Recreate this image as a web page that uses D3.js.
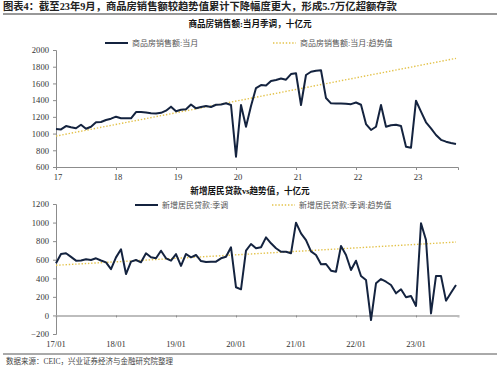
<!DOCTYPE html>
<html>
<head>
<meta charset="utf-8">
<script src="https://cdn.jsdelivr.net/npm/d3@7"></script>
<style>
  html, body { margin: 0; padding: 0; background: #fff; }
  svg text { font-family: "Liberation Serif", "Noto Sans CJK SC", serif; }
</style>
</head>
<body>
<svg id="chart" width="500" height="368"></svg>
<script>
// Monthly data, 2017-01 .. 2023-09 (81 months)
const firstMonth = '2017-01';

// 商品房销售额:当月 (季调, 十亿元)
const salesValues = [
  1055, 1050, 1090, 1075, 1063, 1106, 1058, 1082, 1135, 1138, 1162, 1178,
  1202, 1183, 1182, 1183, 1258, 1258, 1252, 1242, 1240, 1248, 1274, 1322,
  1267, 1285, 1292, 1348, 1302, 1318, 1330, 1318, 1345, 1348, 1362, 1342,
  723, 1342, 1082, 1330, 1545, 1580, 1575, 1630, 1641, 1658, 1645, 1712,
  1722, 1342, 1701, 1740, 1752, 1758, 1425, 1362, 1360, 1360, 1358, 1352,
  1372, 1345, 1114, 1043, 1082, 1342, 1082, 1100, 1105, 1090, 843, 831,
  1393, 1262, 1135, 1063, 983, 925, 903, 888, 875
];
// 趋势值: straight line, read at both ends
const salesTrend = [
  { month: 0, value: 970 },
  { month: 80, value: 1900 }
];

// 新增居民贷款:季调 (十亿元)
const loanValues = [
  561, 662, 669, 630, 590, 592, 605, 597, 615, 592, 572, 498,
  625, 712, 446, 579, 597, 572, 669, 626, 615, 697, 615, 590,
  660, 534, 662, 626, 651, 586, 575, 579, 579, 615, 632, 734,
  303, 281, 697, 769, 723, 734, 841, 777, 723, 686, 686, 669,
  999, 884, 812, 690, 651, 551, 554, 482, 471, 748, 651, 489,
  589, 425, 382, -50, 346, 392, 363, 328, 238, 281, 195, 209,
  102, 992, 812, 22, 425, 425, 159, 245, 328
];
const loanTrend = [
  { month: 0, value: 540 },
  { month: 80, value: 790 }
];

// Axis ticks
const yearTickMonths = [0, 12, 24, 36, 48, 60, 72];
const topXLabels = ['17', '18', '19', '20', '21', '22', '23'];
const bottomXLabels = ['17/01', '18/01', '19/01', '20/01', '21/01', '22/01', '23/01'];
const topYTicks = [600, 800, 1000, 1200, 1400, 1600, 1800, 2000];
const bottomYTicks = [-200, 0, 200, 400, 600, 800, 1000, 1200];

// Texts
const mainTitle = '图表4：截至23年9月，商品房销售额较趋势值累计下降幅度更大，形成5.7万亿超额存款';
const topTitle = '商品房销售额:当月季调，十亿元';
const topLegend = ['商品房销售额:当月', '商品房销售额:当月:趋势值'];
const bottomTitle = '新增居民贷款vs趋势值，十亿元';
const bottomLegend = ['新增居民贷款:季调', '新增居民贷款:季调:趋势值'];
const sourceNote = '数据来源：CEIC，兴业证券经济与金融研究院整理';

const lineColor = '#14233f';
const trendColor = '#e3c24a';
const axisColor = '#8c8c8c';
const labelColor = '#333';

const svg = d3.select('#chart');

// Header
svg.append('text')
  .attr('x', 3).attr('y', 10)
  .style('font-size', '10.3px')
  .style('font-weight', 'bold')
  .style('fill', '#222')
  .text(mainTitle);

svg.append('line')
  .attr('x1', 3).attr('x2', 497)
  .attr('y1', 14).attr('y2', 14)
  .attr('stroke', '#333')
  .attr('stroke-width', 1.2);

// Footer
svg.append('line')
  .attr('x1', 3).attr('x2', 497)
  .attr('y1', 354).attr('y2', 354)
  .attr('stroke', '#555')
  .attr('stroke-width', 1);

svg.append('text')
  .attr('x', 6).attr('y', 364)
  .style('font-size', '7.5px')
  .style('fill', '#444')
  .text(sourceNote);

const x = d3.scaleLinear().domain([0, 80.4]).range([56, 458]);

function drawPanel(opts) {
  const y = d3.scaleLinear().domain(opts.yDomain).range(opts.yRange);
  const g = svg.append('g');

  // Title
  g.append('text')
    .attr('x', 250).attr('y', opts.titleY)
    .attr('text-anchor', 'middle')
    .style('font-size', '8.6px')
    .style('font-weight', 'bold')
    .style('fill', '#111')
    .text(opts.title);

  // Legend
  const legendItems = [
    { x0: opts.legendX[0], label: opts.legend[0], trend: false },
    { x0: opts.legendX[1], label: opts.legend[1], trend: true }
  ];
  legendItems.forEach(d => {
    g.append('line')
      .attr('x1', d.x0).attr('x2', d.x0 + 23)
      .attr('y1', opts.legendY).attr('y2', opts.legendY)
      .attr('stroke', d.trend ? trendColor : lineColor)
      .attr('stroke-width', d.trend ? 1.4 : 2)
      .attr('stroke-dasharray', d.trend ? '1.4 1.8' : null);
    g.append('text')
      .attr('x', d.x0 + 27).attr('y', opts.legendY + 3)
      .style('font-size', '8px')
      .style('fill', '#555')
      .text(d.label);
  });

  // Y axis
  const yAxis = g.append('g')
    .attr('transform', `translate(56,0)`)
    .call(d3.axisLeft(y).tickValues(opts.yTicks).tickSize(3).tickPadding(4).tickFormat(d3.format('d')));
  yAxis.select('.domain').attr('stroke', axisColor);
  yAxis.selectAll('line').attr('stroke', axisColor);
  yAxis.selectAll('text')
    .style('font-size', '8.6px')
    .style('fill', labelColor)
    .style('font-family', '"Liberation Serif", serif');

  // X axis line position
  const xAxis = g.append('g')
    .attr('transform', `translate(0,${y(opts.xAxisAt)})`)
    .call(d3.axisBottom(x).tickValues(yearTickMonths).tickSize(opts.xTickSize).tickFormat(''));
  xAxis.select('.domain')
    .attr('stroke', opts.xAxisColor)
    .attr('stroke-width', opts.xAxisWidth);
  xAxis.selectAll('.tick line').attr('stroke', axisColor);

  // X labels
  g.selectAll('.xlabel')
    .data(yearTickMonths)
    .enter()
    .append('text')
    .attr('x', (d, i) => x(d) + opts.labelShift)
    .attr('y', opts.xLabelY)
    .attr('text-anchor', 'middle')
    .style('font-size', '8.6px')
    .style('fill', labelColor)
    .text((d, i) => opts.xLabels[i]);

  // Trend line
  g.append('path')
    .datum(opts.trend)
    .attr('fill', 'none')
    .attr('stroke', trendColor)
    .attr('stroke-width', 1.4)
    .attr('stroke-dasharray', '1.4 1.8')
    .attr('d', d3.line().x(d => x(d.month)).y(d => y(d.value)));

  // Main series
  g.append('path')
    .datum(opts.values)
    .attr('fill', 'none')
    .attr('stroke', lineColor)
    .attr('stroke-width', 2)
    .attr('stroke-linejoin', 'round')
    .attr('d', d3.line().x((d, i) => x(i)).y(d => y(d)));
}

drawPanel({
  title: topTitle, titleY: 27,
  legend: topLegend, legendX: [105, 273], legendY: 43,
  yDomain: [600, 2000], yRange: [167, 50], yTicks: topYTicks,
  xAxisAt: 600, xAxisColor: axisColor, xAxisWidth: 1, xTickSize: 3,
  xLabels: topXLabels, xLabelY: 180, labelShift: 2,
  values: salesValues, trend: salesTrend
});

drawPanel({
  title: bottomTitle, titleY: 194,
  legend: bottomLegend, legendX: [135, 272], legendY: 205,
  yDomain: [-200, 1200], yRange: [334, 204], yTicks: bottomYTicks,
  xAxisAt: 0, xAxisColor: '#bdbdbd', xAxisWidth: 2, xTickSize: 2,
  xLabels: bottomXLabels, xLabelY: 347, labelShift: 0,
  values: loanValues, trend: loanTrend
});
</script>
</body>
</html>
